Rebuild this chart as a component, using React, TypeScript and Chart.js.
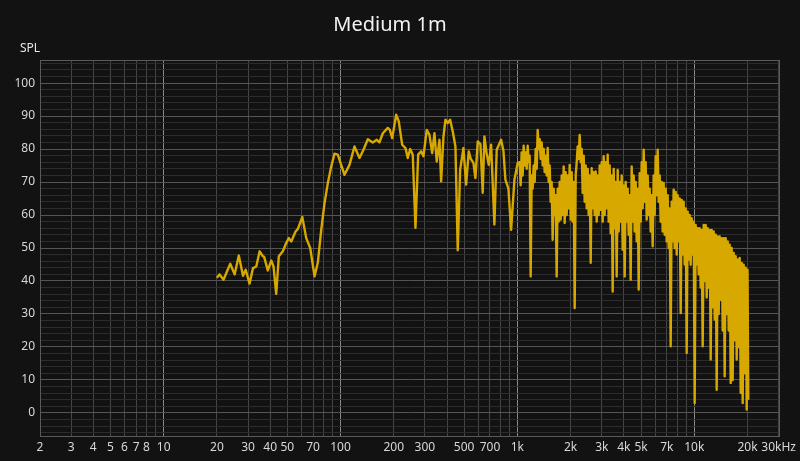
import React, { useEffect, useRef } from "react";
import { Chart, registerables } from "chart.js";

Chart.register(...registerables);

const chartTitle = "Medium 1m";
const yAxisLabel = "SPL";

// frequency (Hz) and SPL (dB)
const freqHz = [
  20, 20.7, 21.8, 23.8, 25.2, 26.6, 28.1, 29.1, 30.6, 32, 33.4, 34.9, 36.4, 37, 38.8, 40.6, 41.8, 43.3, 44.8, 47.2,
  49.3, 51, 52.7, 55.7, 57.4, 60.8, 64, 67.4, 71.3, 74.4, 77.8, 81.2, 84.8, 88.6, 92.5, 96.5,
  105.3, 112.4, 120, 128, 134.9, 142.7, 152.2, 160.4, 166, 173.4, 185, 190, 196, 206.4, 213.5, 223.2, 232.9, 240,
  247.6, 256.1, 265.3, 274.8, 285.7, 294.4, 307.3, 318.3, 329.7, 339.7, 350, 362.5, 370.6, 381.9, 392, 403.9,
  416.7, 431.1, 446.4, 460, 474.6, 495.3, 513.1, 530.8, 545, 564.2, 579, 596.7, 618, 636.8, 651, 668.2, 688.5,
  710.3, 741.5, 764.1, 809, 833.6, 855.6, 889.7, 921.4, 962, 1004,
  1030, 1043.5, 1057, 1070.8, 1085, 1099.2, 1114, 1128.6, 1143, 1158, 1173, 1188.4, 1204, 1219.8, 1236, 1252.2, 1269, 1285.6, 1302, 1319.1,
  1337, 1354.5, 1372, 1390, 1408, 1426.4, 1445, 1463.9, 1483, 1502.4, 1522, 1541.9, 1562, 1582.5, 1604, 1625, 1646, 1667.6, 1689, 1711.1,
  1734, 1756.7, 1780, 1803.3, 1827, 1850.9, 1875, 1899.6, 1925, 1950.2, 1975, 2000.9, 2027, 2053.6, 2081, 2108.3, 2136, 2164, 2192, 2220.7,
  2250, 2279.5, 2309, 2339.2, 2370, 2401, 2433, 2464.9, 2497, 2529.7, 2563, 2596.6, 2630, 2664.5, 2700, 2735.4, 2771, 2807.3, 2844, 2881.3,
  2919, 2957.2, 2996, 3035.2, 3075, 3115.3, 3156, 3197.3, 3239, 3281.4, 3325, 3368.6, 3412, 3456.7, 3502, 3547.9, 3595, 3642.1, 3690, 3738.3,
  3787, 3836.6, 3887, 3937.9, 3989, 4041.3, 4094, 4147.6, 4202, 4257, 4313, 4369.5, 4427, 4485, 4544, 4603.5, 4664, 4725.1, 4787, 4849.7,
  4913, 4977.4, 5043, 5109.1, 5176, 5243.8, 5312, 5381.6, 5452, 5523.4, 5596, 5669.3, 5744, 5819.2, 5895, 5972.2, 6051, 6130.3, 6210, 6291.4,
  6374, 6457.5, 6542, 6627.7, 6715, 6803, 6892, 6982.3, 7074, 7166.7, 7260, 7355.1, 7452, 7549.6, 7648, 7748.2, 7850, 7952.8, 8057, 8162.5,
  8270, 8378.3, 8488, 8599.2, 8712, 8826.1, 8942, 9059.1, 9178, 9298.2, 9420, 9543.4, 9668, 9794.6, 9923, 10053, 10185, 10318, 10454, 10591,
  10730, 10871, 11013, 11157, 11303, 11451, 11602, 11754, 11908, 12064, 12222, 12382, 12544, 12708, 12875, 13044, 13215, 13388, 13564, 13742,
  13922, 14104, 14289, 14476, 14666, 14858, 15053, 15250, 15450, 15652, 15858, 16066, 16276, 16489, 16706, 16925, 17147, 17372, 17599, 17830,
  18064, 18301, 18540, 18783, 19030, 19279, 19532, 19788,
  20000, 20200,
];

const splDb = [
  41, 42, 40.4, 45.2, 42, 47.7, 41.6, 43.4, 39.2, 43.9, 44.4, 49, 47.5, 47.3, 43.2, 46.2, 44.4, 36.1, 47.5, 49,
  51.5, 53, 52, 55, 55.8, 59.4, 53, 50, 41.4, 45.5, 55.5, 63.6, 69.7, 74.7, 78.6, 78.3,
  72.2, 75.2, 80.8, 77.3, 79.8, 83, 82, 82.8, 82, 84.8, 86.4, 85.8, 83.3, 90.4, 88.4, 81.3, 80.3, 77.3,
  80, 78.3, 56.1, 78.3, 79.3, 77.8, 85.8, 84.3, 78.8, 84.8, 76.2, 82.8, 70.2, 83.8, 88.9, 87.9,
  88.9, 85.3, 80.8, 49.3, 73.7, 80.3, 69.2, 79.3, 77, 75.8, 71.2, 82.3, 81.5, 66.7, 83.8, 79, 75.2,
  81.3, 57.1, 79.8, 82.8, 79.5, 70.7, 68, 55.5, 70.7, 75.8,
  76, 69, 79, 72, 81, 75, 79, 74, 81, 76, 78, 41.4, 72, 68, 75, 70, 80, 74, 85.8, 80,
  83, 77, 82, 75, 80, 73, 78, 72, 80.3, 70, 75, 64, 70, 52.5, 68, 60, 66, 41.4, 68, 58,
  70, 58.6, 72, 60, 74.7, 57.6, 73, 60, 72, 62, 75.2, 58.6, 73, 58, 70, 31.8, 72, 76, 80.8, 77,
  84.3, 76, 80, 66.7, 78, 64, 75, 62, 74, 60, 72, 45.5, 74.2, 62, 73, 60, 73.2, 58, 72, 60,
  75, 61.6, 76, 58, 77.8, 60, 76, 62, 78.3, 58, 75, 54.5, 72, 36.8, 74, 56, 70, 41.4, 73.7, 55,
  70, 58, 72, 49.5, 69, 41.4, 70, 58, 68, 54, 66, 40.4, 74.7, 58, 72, 55, 70, 52, 68, 37.4,
  72.7, 58, 76, 62, 79.8, 64, 76, 58.6, 72, 60, 68, 55, 66, 50.5, 72, 60, 77.8, 66, 79.8, 64,
  72, 58, 70, 55, 69.7, 54, 68, 52, 66, 50, 62, 20.2, 64, 52, 67.7, 50, 67, 48, 66, 52,
  65, 30.3, 64.6, 48, 64, 45, 62, 18.2, 61, 46.5, 60, 44.9, 59, 48, 58, 3, 57, 45, 56, 42,
  56, 38, 55.5, 20.2, 57, 40, 57, 35, 56, 38, 55.5, 16.2, 55.5, 32, 55, 28.3, 54, 7, 53.5, 30,
  53.5, 34.3, 53, 25, 53, 11.1, 53, 30, 52, 25, 51, 9.1, 50, 10, 48.5, 22, 47.5, 16.2, 46.5, 20,
  47, 6.1, 45.5, 3, 44.9, 12, 44, 1,
  43.4, 4,
];

const xGridValues = [
  2, 3, 4, 5, 6, 7, 8, 9, 10, 20, 30, 40, 50, 60, 70, 80, 90, 100, 200, 300, 400, 500, 600, 700, 800, 900,
  1000, 2000, 3000, 4000, 5000, 6000, 7000, 8000, 9000, 10000, 20000, 30000,
];
const xTickLabels: Record<number, string> = {
  2: "2", 3: "3", 4: "4", 5: "5", 6: "6", 7: "7", 8: "8", 10: "10", 20: "20", 30: "30", 40: "40", 50: "50",
  70: "70", 100: "100", 200: "200", 300: "300", 500: "500", 700: "700", 1000: "1k", 2000: "2k", 3000: "3k",
  4000: "4k", 5000: "5k", 7000: "7k", 10000: "10k", 20000: "20k", 30000: "30kHz",
};
const xDecades = [10, 100, 1000, 10000];
const yLabelValues = [0, 10, 20, 30, 40, 50, 60, 70, 80, 90, 100];
const yMin = -7;
const yMax = 107;

const FONT = "'Noto Sans', 'Open Sans', sans-serif";

export default function App() {
  const ref = useRef<HTMLCanvasElement | null>(null);
  useEffect(() => {
    document.body.style.margin = "0";
    document.body.style.background = "#121212";
    const canvas = ref.current;
    if (!canvas) return;
    const yGrid: number[] = [];
    for (let v = -6; v <= 106; v += 2) yGrid.push(v);

    const framePlugin = {
      id: "frame",
      beforeDraw(chart: any) {
        const { ctx } = chart;
        ctx.save();
        ctx.fillStyle = "#121212";
        ctx.fillRect(0, 0, chart.width, chart.height);
        ctx.restore();
      },
      beforeDatasetsDraw(chart: any) {
        const { ctx, chartArea } = chart;
        ctx.save();
        ctx.strokeStyle = "#5a5a5a";
        ctx.lineWidth = 1;
        ctx.strokeRect(
          Math.round(chartArea.left) + 0.5,
          Math.round(chartArea.top) + 0.5,
          Math.round(chartArea.right - chartArea.left),
          Math.round(chartArea.bottom - chartArea.top)
        );
        ctx.fillStyle = "#e6e6e6";
        ctx.font = `12px ${FONT}`;
        ctx.textAlign = "left";
        ctx.textBaseline = "middle";
        ctx.fillText(yAxisLabel, 20, 49);
        ctx.restore();
      },
    };

    const chart = new Chart(canvas, {
      type: "line",
      data: {
        datasets: [
          {
            data: freqHz.map((f, i) => ({ x: f, y: splDb[i] })),
            borderColor: "#d6a800",
            borderWidth: 2.4,
            pointRadius: 0,
            tension: 0,
            fill: false,
            borderJoinStyle: "round",
          },
        ],
      },
      options: {
        animation: false,
        responsive: false,
        devicePixelRatio: 1,
        layout: { padding: { left: 0, right: 20, top: 0, bottom: 0 } },
        plugins: {
          legend: { display: false },
          tooltip: { enabled: false },
          title: {
            display: true,
            text: chartTitle,
            color: "#f2f2f2",
            font: { family: FONT, size: 20, weight: "normal" },
            padding: { top: 13, bottom: 23 },
          },
        },
        scales: {
          x: {
            type: "logarithmic",
            min: 2,
            max: 30000,
            afterBuildTicks(scale: any) {
              scale.ticks = xGridValues.map((v) => ({ value: v }));
            },
            afterFit(scale: any) {
              scale.height = 25;
            },
            ticks: {
              autoSkip: false,
              maxRotation: 0,
              minRotation: 0,
              padding: 4,
              color: "#d8d8d8",
              font: { family: FONT, size: 12 },
              callback: (v: any) => xTickLabels[Number(v)] ?? "",
            },
            grid: {
              drawTicks: false,
              color: (c: any) => (xDecades.includes(c.tick?.value) ? "#8a8a8a" : "#454545"),
              lineWidth: 1,
            },
            border: { display: false },
          },
          y: {
            type: "linear",
            min: yMin,
            max: yMax,
            afterBuildTicks(scale: any) {
              scale.ticks = yGrid.map((v) => ({ value: v }));
            },
            afterFit(scale: any) {
              scale.width = 40;
            },
            ticks: {
              autoSkip: false,
              padding: 5,
              color: "#d8d8d8",
              font: { family: FONT, size: 12 },
              callback: (v: any) => (yLabelValues.includes(Number(v)) ? String(v) : ""),
            },
            grid: {
              drawTicks: false,
              color: (c: any) => (c.tick && c.tick.value % 10 === 0 ? "#555555" : "#2c2c2c"),
              lineWidth: 1,
            },
            border: { display: false },
          },
        },
      },
      plugins: [framePlugin],
    } as any);
    return () => chart.destroy();
  }, []);
  return (
    <div style={{ width: 800, height: 461, background: "#121212" }}>
      <canvas ref={ref} width={800} height={461} />
    </div>
  );
}
